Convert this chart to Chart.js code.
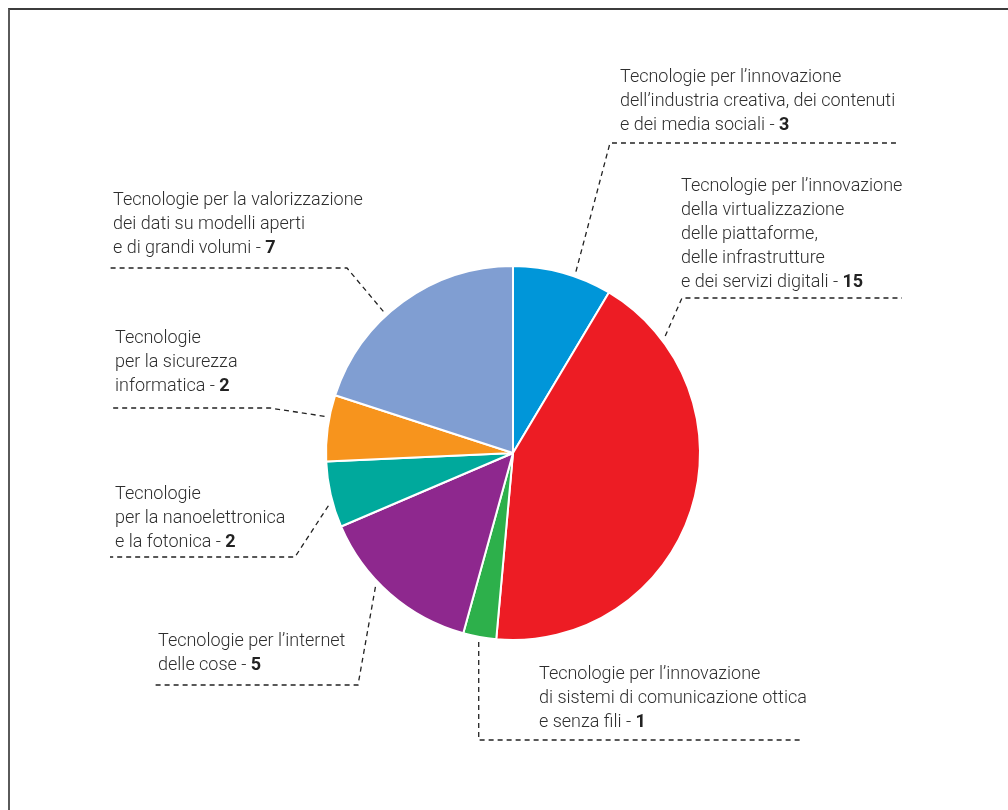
<!DOCTYPE html>
<html lang="it">
<head>
<meta charset="UTF-8">
<title>Tecnologie abilitanti</title>
<script src="https://cdn.jsdelivr.net/npm/chart.js"></script>
<style>
  body { margin: 0; background: #fff; }
  .wrap { position: relative; width: 1008px; height: 810px; }
  .frame { position: absolute; left: 8px; top: 8px; right: 0; bottom: 0;
           border-top: 2px solid #3c3c3c; border-left: 2px solid #5a5a5a; }
  canvas { position: absolute; left: 0; top: 0; }
</style>
</head>
<body>
<div class="wrap">
  <div class="frame"></div>
  <canvas id="myChart" width="1008" height="810"></canvas>
</div>
<script>
// label text (value is appended in bold on the last line)
const categories = [
  ['Tecnologie per l\u2019innovazione', 'dell\u2019industria creativa, dei contenuti', 'e dei media sociali'],
  ['Tecnologie per l\u2019innovazione', 'della virtualizzazione', 'delle piattaforme,', 'delle infrastrutture', 'e dei servizi digitali'],
  ['Tecnologie per l\u2019innovazione', 'di sistemi di comunicazione ottica', 'e senza fili'],
  ['Tecnologie per l\u2019internet', 'delle cose'],
  ['Tecnologie', 'per la nanoelettronica', 'e la fotonica'],
  ['Tecnologie', 'per la sicurezza', 'informatica'],
  ['Tecnologie per la valorizzazione', 'dei dati su modelli aperti', 'e di grandi volumi']
];
const values = [3, 15, 1, 5, 2, 2, 7];
const colors = ['#0096d9', '#ed1c24', '#2db04b', '#8e288e', '#00a99c', '#f7941d', '#809ed2'];

// where each callout sits: text origin, elbow of the leader, end of the underline,
// and where along the slice the leader starts (0..1)
const callouts = [
  { tx: 620, ty: 77,  ex: 610, ey: 143, hx: 900, f: 0.62 },
  { tx: 681, ty: 186, ex: 682, ey: 298, hx: 902, f: 0.14 },
  { tx: 539, ty: 674, ex: null, ey: 740, hx: 800, f: 0.5 },
  { tx: 158, ty: 641, ex: 358, ey: 685, hx: 155, f: 0.59 },
  { tx: 115, ty: 494, ex: 295, ey: 557, hx: 110, f: 0.35 },
  { tx: 115, ty: 338, ex: 270, ey: 408, hx: 110, f: 0.66 },
  { tx: 113, ty: 200, ex: 347, ey: 268, hx: 110, f: 0.41 }
];

const FONT = "Roboto, 'Liberation Sans', sans-serif";
const LINE_H = 24;

const calloutPlugin = {
  id: 'callouts',
  afterDraw(chart) {
    const ctx = chart.ctx;
    const arcs = chart.getDatasetMeta(0).data;
    ctx.save();
    arcs.forEach((arc, i) => {
      const c = callouts[i];
      const a = arc.startAngle + c.f * (arc.endAngle - arc.startAngle);
      const r = arc.outerRadius + 5;
      const sx = arc.x + Math.cos(a) * r;
      const sy = arc.y + Math.sin(a) * r;
      const ex = c.ex === null ? sx : c.ex;

      // dashed leader
      ctx.beginPath();
      ctx.setLineDash([5, 4]);
      ctx.lineWidth = 1.3;
      ctx.strokeStyle = '#222';
      ctx.moveTo(sx, sy);
      ctx.lineTo(ex, c.ey);
      ctx.lineTo(c.hx, c.ey);
      ctx.stroke();

      // text
      ctx.setLineDash([]);
      ctx.textBaseline = 'middle';
      ctx.textAlign = 'left';
      const lines = categories[i];
      lines.forEach((txt, j) => {
        const y = c.ty + j * LINE_H;
        ctx.font = '300 18px ' + FONT;
        ctx.fillStyle = '#2e2e2e';
        if (j === lines.length - 1) {
          const s = txt + ' - ';
          ctx.fillText(s, c.tx, y);
          const w = ctx.measureText(s).width;
          ctx.font = 'bold 18px ' + FONT;
          ctx.fillStyle = '#222';
          ctx.fillText(String(values[i]), c.tx + w, y);
        } else {
          ctx.fillText(txt, c.tx, y);
        }
      });
    });
    ctx.restore();
  }
};

const ctx = document.getElementById('myChart').getContext('2d');
new Chart(ctx, {
  type: 'pie',
  data: {
    labels: categories.map(l => l.join(' ')),
    datasets: [{
      data: values,
      backgroundColor: colors,
      borderColor: '#fff',
      borderWidth: 2
    }]
  },
  options: {
    responsive: false,
    animation: false,
    layout: { padding: { left: 325, right: 307, top: 265, bottom: 169 } },
    plugins: {
      legend: { display: false },
      tooltip: { enabled: false }
    }
  },
  plugins: [calloutPlugin]
});
</script>
</body>
</html>
